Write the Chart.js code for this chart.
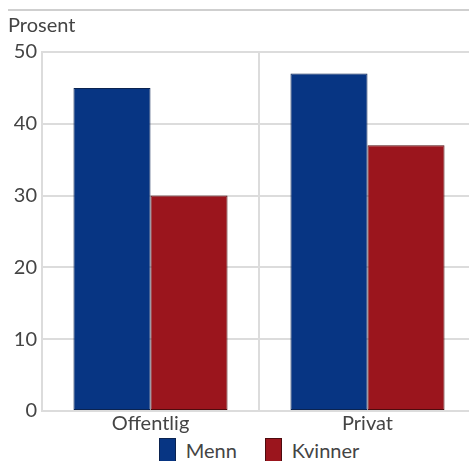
<!DOCTYPE html>
<html>
<head>
<meta charset="utf-8">
<script src="https://cdn.jsdelivr.net/npm/chart.js@4/dist/chart.umd.min.js"></script>
<style>
  html, body { margin: 0; padding: 0; background: #fff; overflow: hidden; }
  #wrap { position: relative; width: 476px; height: 461px; }
  #canvasBox { width: 476px; height: 438px; }
  #legend { position: absolute; top: 438px; height: 24px; display: flex; justify-content: center; align-items: center;
            font-family: Lato, sans-serif; font-size: 20px; color: #444; }
  #legend .item { display: flex; align-items: center; margin: 0 14px; }
  #legend .box { width: 17px; height: 24px; box-sizing: border-box; border: 1px solid; margin-right: 10px; }
</style>
</head>
<body>
<div id="wrap">
  <div id="canvasBox"><canvas id="chartLonn"></canvas></div>
  <div id="legend"></div>
</div>
<script>
var categories = ['Offentlig', 'Privat']
var menn = [45, 47]
var kvinner = [30, 37]
var yTicks = [0, 10, 20, 30, 40, 50]

var textColor = '#444444'
var gridColor = '#dcdcdc'
var font = { family: 'Lato', size: 20, weight: 'normal' }

// thin grey rule across the top of the figure
var topRule = {
  id: 'topRule',
  beforeDraw: function(chart) {
    var c = chart.ctx
    c.save()
    c.strokeStyle = '#cfcfcf'
    c.lineWidth = 2
    c.beginPath()
    c.moveTo(8, 10)
    c.lineTo(chart.width, 10)
    c.stroke()
    c.restore()
  }
}

var ctx = document.getElementById('chartLonn')

var chartLonn = new Chart(ctx, {
  type: 'bar',
  data: {
    labels: categories,
    datasets: [{
      label: 'Menn',
      data: menn,
      backgroundColor: '#073583',
      borderColor: '#0b2350',
      borderWidth: 1,
      borderSkipped: false,
      categoryPercentage: 0.71,
      barPercentage: 1
    }, {
      label: 'Kvinner',
      data: kvinner,
      backgroundColor: '#9b151d',
      borderColor: '#4e0b0e',
      borderWidth: 1,
      borderSkipped: false,
      categoryPercentage: 0.71,
      barPercentage: 1
    }]
  },
  options: {
    responsive: true,
    maintainAspectRatio: false,
    animation: false,
    layout: { padding: { left: 8, top: 14, right: 0, bottom: 0 } },
    plugins: {
      title: {
        display: true,
        text: 'Prosent',
        align: 'start',
        color: textColor,
        font: font,
        padding: { top: 0, bottom: 14 }
      },
      legend: { display: false },
      tooltip: { enabled: false }
    },
    scales: {
      x: {
        afterFit: function(axis) { axis.height = 27 },
        grid: { color: gridColor, lineWidth: 2, drawTicks: false, offset: true },
        border: { color: gridColor, width: 2 },
        ticks: { color: textColor, font: font, padding: 1, autoSkip: false }
      },
      y: {
        min: 0,
        max: 50,
        afterBuildTicks: function(axis) {
          axis.ticks = yTicks.map(function(v) { return { value: v } })
        },
        afterFit: function(axis) { axis.width = 34 },
        grid: { color: gridColor, lineWidth: 2, drawTicks: false },
        border: { color: gridColor, width: 2 },
        ticks: { color: textColor, font: font, padding: 5 }
      }
    }
  },
  plugins: [topRule]
});

// legend under the plot, centred on the chart area
var legend = document.getElementById('legend')
var area = chartLonn.chartArea
legend.style.left = area.left + 'px'
legend.style.width = (area.right - area.left) + 'px'
chartLonn.data.datasets.forEach(function(ds) {
  var item = document.createElement('div')
  item.className = 'item'
  var box = document.createElement('span')
  box.className = 'box'
  box.style.background = ds.backgroundColor
  box.style.borderColor = ds.borderColor
  var txt = document.createElement('span')
  txt.textContent = ds.label
  item.appendChild(box)
  item.appendChild(txt)
  legend.appendChild(item)
})
</script>
</body>
</html>
